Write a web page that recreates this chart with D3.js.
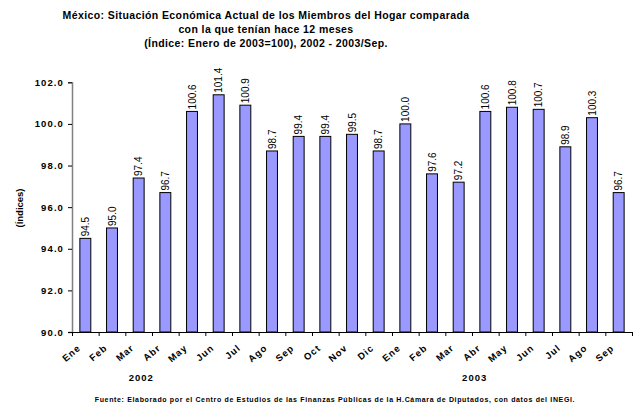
<!DOCTYPE html>
<html>
<head>
<meta charset="utf-8">
<script src="https://cdn.jsdelivr.net/npm/d3@7"></script>
<style>
  body { margin: 0; background: #fff; }
  text { font-family: Arial, "Liberation Sans", sans-serif; }
</style>
</head>
<body>
<div id="viz"></div>
<script>
var months = ["Ene","Feb","Mar","Abr","May","Jun","Jul","Ago","Sep","Oct","Nov","Dic",
              "Ene","Feb","Mar","Abr","May","Jun","Jul","Ago","Sep"];
var values = [94.5, 95.0, 97.4, 96.7, 100.6, 101.4, 100.9, 98.7, 99.4, 99.4, 99.5, 98.7,
              100.0, 97.6, 97.2, 100.6, 100.8, 100.7, 98.9, 100.3, 96.7];
var yTicks = [90, 92, 94, 96, 98, 100, 102];
var years = ["2002", "2003"];
var yearPos = [2.6, 15.1]; // in band units, as placed in the original

var titleLines = [
  "México: Situación Económica Actual de los Miembros del Hogar comparada",
  "con la que tenían hace 12 meses",
  "(Índice: Enero de 2003=100), 2002 - 2003/Sep."
];
var source = "Fuente: Elaborado por el Centro de Estudios de las Finanzas Públicas de la H.Cámara de Diputados, con datos del INEGI.";

var width = 635, height = 406;
var plotLeft = 72, plotRight = 632, plotTop = 82.3, plotBottom = 332;

var svg = d3.select("#viz")
  .append("svg")
  .attr("width", width)
  .attr("height", height);

var ids = d3.range(values.length);

var x = d3.scaleBand()
  .domain(ids)
  .range([plotLeft, plotRight])
  .paddingInner(0.59)
  .paddingOuter(0.295);

var xLin = d3.scaleLinear()
  .domain([0, values.length])
  .range([plotLeft, plotRight]);

var y = d3.scaleLinear()
  .domain([90, 102])
  .range([plotBottom, plotTop]);

// title
svg.append("g")
  .selectAll("text")
  .data(titleLines)
  .enter().append("text")
  .attr("x", 266)
  .attr("y", function(d, i) { return 19 + i * 14; })
  .attr("text-anchor", "middle")
  .attr("font-size", "10.5px")
  .attr("font-weight", "bold")
  .attr("letter-spacing", "0.4px")
  .text(function(d) { return d; });

// bars
svg.append("g")
  .selectAll("rect")
  .data(values)
  .enter().append("rect")
  .attr("x", function(d, i) { return x(i); })
  .attr("y", function(d) { return y(d); })
  .attr("width", x.bandwidth())
  .attr("height", function(d) { return y(90) - y(d); })
  .attr("fill", "#9999ff")
  .attr("stroke", "#000")
  .attr("stroke-width", 1);

// value labels
svg.append("g")
  .selectAll("text")
  .data(values)
  .enter().append("text")
  .attr("transform", function(d, i) {
    return "translate(" + (x(i) + x.bandwidth() / 2 + 3.5) + "," + (y(d) - 2) + ") rotate(-90)";
  })
  .attr("font-size", "10px")
  .attr("fill", "#000")
  .text(function(d) { return d.toFixed(1); });

// y axis
var yAxis = d3.axisLeft(y)
  .tickValues(yTicks)
  .tickSize(4)
  .tickFormat(d3.format(".1f"));

var gy = svg.append("g")
  .attr("transform", "translate(" + plotLeft + ",0)")
  .call(yAxis);
gy.select(".domain").attr("stroke", "#808080").attr("stroke-width", 1.5);
gy.selectAll(".tick line").attr("stroke", "#000");
gy.selectAll(".tick text")
  .attr("font-size", "9.5px")
  .attr("font-weight", "bold")
  .attr("font-family", "Arial, 'Liberation Sans', sans-serif")
  .attr("letter-spacing", "1.1px")
  .attr("x", -8);

// x axis: ticks at band boundaries
var xAxis = d3.axisBottom(xLin)
  .tickValues(d3.range(values.length + 1))
  .tickSize(4)
  .tickSizeOuter(0)
  .tickFormat("");

var gx = svg.append("g")
  .attr("transform", "translate(0," + plotBottom + ")")
  .call(xAxis);
gx.select(".domain").attr("stroke", "#000").attr("stroke-width", 1);
gx.selectAll(".tick line").attr("stroke", "#000");

// month labels
svg.append("g")
  .selectAll("text")
  .data(months)
  .enter().append("text")
  .attr("transform", function(d, i) {
    return "translate(" + (x(i) + x.bandwidth() / 2 - 4) + "," + (plotBottom + 17) + ") rotate(-40)";
  })
  .attr("text-anchor", "end")
  .attr("font-size", "9.5px")
  .attr("font-weight", "bold")
  .attr("letter-spacing", "1px")
  .text(function(d) { return d; });

// year labels
svg.append("g")
  .selectAll("text")
  .data(years)
  .enter().append("text")
  .attr("x", function(d, i) { return xLin(yearPos[i]); })
  .attr("y", 381)
  .attr("text-anchor", "middle")
  .attr("font-size", "9.5px")
  .attr("font-weight", "bold")
  .attr("letter-spacing", "1px")
  .text(function(d) { return d; });

// y axis title
svg.append("text")
  .attr("transform", "translate(23,208) rotate(-90)")
  .attr("text-anchor", "middle")
  .attr("font-size", "9.5px")
  .attr("font-weight", "bold")
  .text("(Índices)");

// source
svg.append("text")
  .attr("x", 335)
  .attr("y", 402)
  .attr("text-anchor", "middle")
  .attr("font-size", "7px")
  .attr("font-weight", "bold")
  .attr("letter-spacing", "0.65px")
  .text(source);
</script>
</body>
</html>
